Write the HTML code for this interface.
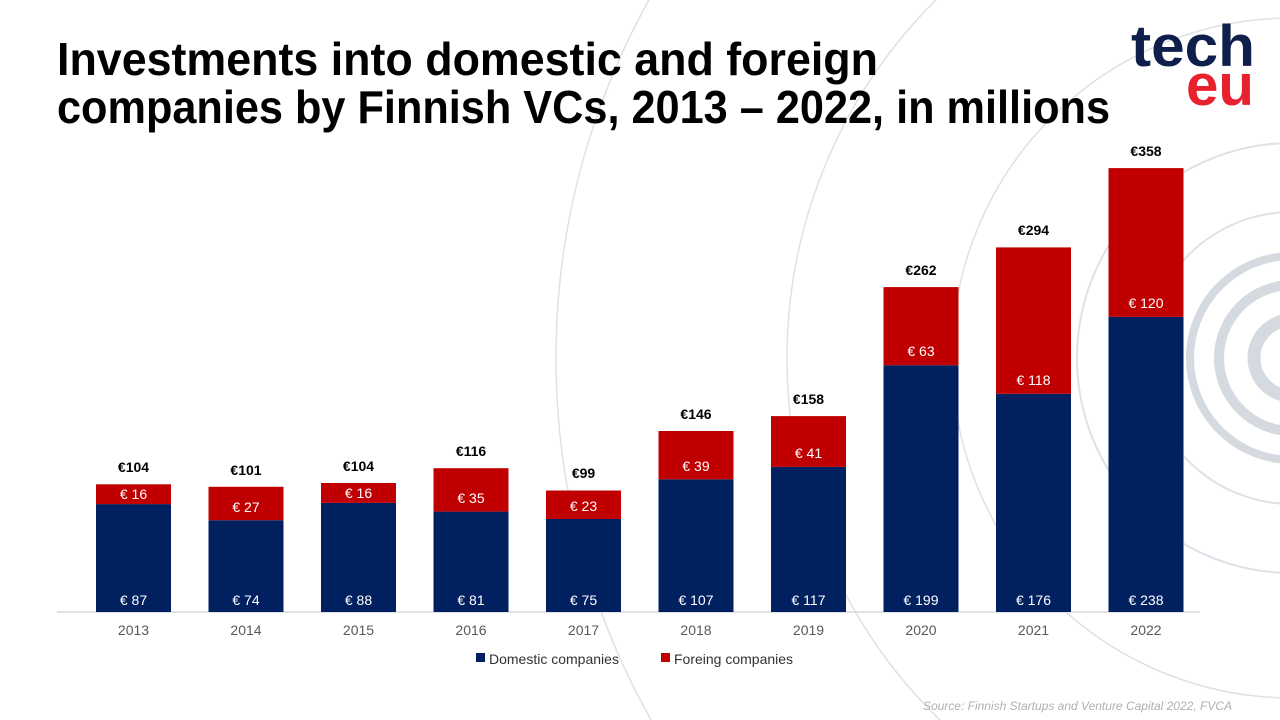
<!DOCTYPE html>
<html><head><meta charset="utf-8"><style>html,body{margin:0;padding:0;background:#fff;overflow:hidden}svg{display:block}</style></head>
<body>
<svg width="1280" height="720" viewBox="0 0 1280 720" xmlns="http://www.w3.org/2000/svg" font-family="Liberation Sans, Arial, sans-serif">
<rect width="1280" height="720" fill="#fff"/>
<g fill="none" stroke="#dde1e8">
<circle cx="1292" cy="358" r="736" stroke-width="1.5"/>
<circle cx="1292" cy="358" r="505" stroke-width="1.5"/>
<circle cx="1292" cy="358" r="340" stroke-width="1.5"/>
<circle cx="1292" cy="358" r="215" stroke-width="2"/>
<circle cx="1292" cy="358" r="146" stroke-width="2"/>
<circle cx="1292" cy="358" r="102" stroke-width="8" stroke="#d5d9e0"/>
<circle cx="1292" cy="358" r="73" stroke-width="10" stroke="#d5d9e0"/>
<circle cx="1292" cy="358" r="38" stroke-width="13" stroke="#d5d9e0"/>
</g>
<g font-weight="bold" font-size="46" fill="#000">
<text x="57" y="75" textLength="821" lengthAdjust="spacingAndGlyphs">Investments into domestic and foreign</text>
<text x="57" y="123" textLength="1053" lengthAdjust="spacingAndGlyphs">companies by Finnish VCs, 2013 – 2022, in millions</text>
</g>
<g font-weight="bold">
<text x="1131" y="66" font-size="58" fill="#0d1f4a" textLength="124" lengthAdjust="spacingAndGlyphs">tech</text>
<text x="1186" y="105" font-size="58" fill="#e8212e" textLength="68" lengthAdjust="spacingAndGlyphs">eu</text>
</g>
<line x1="57" y1="612" x2="1200" y2="612" stroke="#d9d9d9" stroke-width="1.5"/>
<g>
<rect x="96" y="504.1" width="75" height="107.9" fill="#002060"/><rect x="96" y="484.3" width="75" height="19.8" fill="#c00000"/>
<rect x="208.5" y="520.2" width="75" height="91.8" fill="#002060"/><rect x="208.5" y="486.8" width="75" height="33.4" fill="#c00000"/>
<rect x="321" y="502.9" width="75" height="109.1" fill="#002060"/><rect x="321" y="483" width="75" height="19.9" fill="#c00000"/>
<rect x="433.5" y="511.6" width="75" height="100.4" fill="#002060"/><rect x="433.5" y="468.2" width="75" height="43.4" fill="#c00000"/>
<rect x="546" y="519" width="75" height="93" fill="#002060"/><rect x="546" y="490.5" width="75" height="28.5" fill="#c00000"/>
<rect x="658.5" y="479.3" width="75" height="132.7" fill="#002060"/><rect x="658.5" y="431" width="75" height="48.3" fill="#c00000"/>
<rect x="771" y="466.9" width="75" height="145.1" fill="#002060"/><rect x="771" y="416.1" width="75" height="50.8" fill="#c00000"/>
<rect x="883.5" y="365.2" width="75" height="246.8" fill="#002060"/><rect x="883.5" y="287.1" width="75" height="78.1" fill="#c00000"/>
<rect x="996" y="393.8" width="75" height="218.2" fill="#002060"/><rect x="996" y="247.4" width="75" height="146.4" fill="#c00000"/>
<rect x="1108.5" y="316.9" width="75" height="295.1" fill="#002060"/><rect x="1108.5" y="168.1" width="75" height="148.8" fill="#c00000"/>
</g>
<g font-size="14" text-anchor="middle" fill="#fff">
<text x="133.5" y="605">€ 87</text><text x="246" y="605">€ 74</text><text x="358.5" y="605">€ 88</text><text x="471" y="605">€ 81</text><text x="583.5" y="605">€ 75</text><text x="696" y="605">€ 107</text><text x="808.5" y="605">€ 117</text><text x="921" y="605">€ 199</text><text x="1033.5" y="605">€ 176</text><text x="1146" y="605">€ 238</text>
<text x="133.5" y="499">€ 16</text><text x="246" y="512">€ 27</text><text x="358.5" y="498">€ 16</text><text x="471" y="503">€ 35</text><text x="583.5" y="511">€ 23</text><text x="696" y="471">€ 39</text><text x="808.5" y="458">€ 41</text><text x="921" y="356">€ 63</text><text x="1033.5" y="385">€ 118</text><text x="1146" y="308">€ 120</text>
</g>
<g font-size="14" text-anchor="middle" fill="#000" font-weight="bold">
<text x="133.5" y="472">€104</text><text x="246" y="475">€101</text><text x="358.5" y="471">€104</text><text x="471" y="456">€116</text><text x="583.5" y="478">€99</text><text x="696" y="419">€146</text><text x="808.5" y="404">€158</text><text x="921" y="275">€262</text><text x="1033.5" y="235">€294</text><text x="1146" y="156">€358</text>
</g>
<g font-size="14" text-anchor="middle" fill="#595959">
<text x="133.5" y="635">2013</text><text x="246" y="635">2014</text><text x="358.5" y="635">2015</text><text x="471" y="635">2016</text><text x="583.5" y="635">2017</text><text x="696" y="635">2018</text><text x="808.5" y="635">2019</text><text x="921" y="635">2020</text><text x="1033.5" y="635">2021</text><text x="1146" y="635">2022</text>
</g>
<g font-size="14">
<rect x="476" y="653" width="9" height="9" fill="#002060"/>
<text x="489" y="664" fill="#333">Domestic companies</text>
<rect x="661" y="653" width="9" height="9" fill="#c00000"/>
<text x="674" y="664" fill="#333">Foreing companies</text>
</g>
<text x="1232" y="710" font-size="12" font-style="italic" fill="#b0b0b0" text-anchor="end">Source: Finnish Startups and Venture Capital 2022, FVCA</text>
</svg>
</body></html>
